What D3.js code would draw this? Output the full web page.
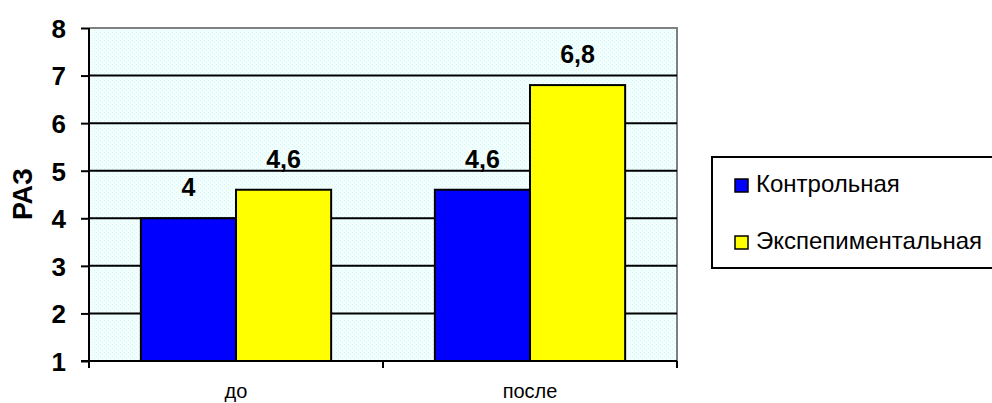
<!DOCTYPE html>
<html>
<head>
<meta charset="utf-8">
<script src="https://cdn.jsdelivr.net/npm/d3@7"></script>
<style>
  body { margin: 0; background: #fff; }
  svg { display: block; font-family: "Liberation Sans", Arial, sans-serif; }
</style>
</head>
<body>
<svg id="chart"></svg>
<script>
// data
const categories = ["до", "после"];
const seriesNames = ["Контрольная", "Экспепиментальная"];
const control = [4, 4.6];
const experimental = [4.6, 6.8];
const valueLabels = [["4", "4,6"], ["4,6", "6,8"]];
const yTicks = [1, 2, 3, 4, 5, 6, 7, 8];
const colors = ["#0000ff", "#ffff00"];

const width = 992, height = 403;
const plot = { left: 89, right: 677, top: 28, bottom: 361 };

const svg = d3.select("#chart").attr("width", width).attr("height", height);

// pattern for the light background
const defs = svg.append("defs");
const pat = defs.append("pattern")
  .attr("id", "bgpat").attr("width", 4).attr("height", 4)
  .attr("patternUnits", "userSpaceOnUse");
pat.append("rect").attr("width", 4).attr("height", 4).attr("fill", "#f2ffff");
pat.append("rect").attr("x", 0).attr("y", 0).attr("width", 1).attr("height", 1).attr("fill", "#d8f4f4");
pat.append("rect").attr("x", 2).attr("y", 2).attr("width", 1).attr("height", 1).attr("fill", "#d8f4f4");

const x0 = d3.scaleBand().domain(categories).range([plot.left, plot.right]).paddingInner(0).paddingOuter(0);
const x1 = d3.scaleBand().domain(seriesNames).range([0, x0.bandwidth()]).paddingInner(0).paddingOuter(0.545);
const y = d3.scaleLinear().domain([1, 8]).range([plot.bottom, plot.top]);

// plot background
svg.append("rect")
  .attr("x", plot.left).attr("y", plot.top)
  .attr("width", plot.right - plot.left).attr("height", plot.bottom - plot.top)
  .attr("fill", "url(#bgpat)");

// gray border top & right
svg.append("path")
  .attr("d", `M${plot.left},${plot.top}H${plot.right}V${plot.bottom}`)
  .attr("fill", "none").attr("stroke", "#808080").attr("stroke-width", 2);

// gridlines
svg.append("g").selectAll("line")
  .data(yTicks.filter(d => d > 1 && d < 8))
  .enter().append("line")
  .attr("x1", plot.left).attr("x2", plot.right)
  .attr("y1", d => y(d)).attr("y2", d => y(d))
  .attr("stroke", "#000").attr("stroke-width", 2);

// bars
const rows = categories.map((c, i) => ({ cat: c, vals: [control[i], experimental[i]], labels: valueLabels[i] }));
const groups = svg.append("g").selectAll("g")
  .data(rows).enter().append("g")
  .attr("transform", d => `translate(${x0(d.cat)},0)`);

groups.selectAll("rect")
  .data(d => d.vals.map((v, j) => ({ name: seriesNames[j], v: v, j: j })))
  .enter().append("rect")
  .attr("x", d => x1(d.name))
  .attr("y", d => y(d.v))
  .attr("width", x1.bandwidth())
  .attr("height", d => y(1) - y(d.v))
  .attr("fill", d => colors[d.j])
  .attr("stroke", "#000").attr("stroke-width", 2);

groups.selectAll("text")
  .data(d => d.vals.map((v, j) => ({ name: seriesNames[j], v: v, label: d.labels[j] })))
  .enter().append("text")
  .attr("x", d => x1(d.name) + x1.bandwidth() / 2)
  .attr("y", d => y(d.v) - 22)
  .attr("text-anchor", "middle")
  .attr("font-size", 25).attr("font-weight", "bold")
  .text(d => d.label);

// y axis
const yAxis = d3.axisLeft(y).tickValues(yTicks).tickSize(8).tickPadding(15).tickFormat(d3.format("d"));
const gy = svg.append("g").attr("transform", `translate(${plot.left},0)`).call(yAxis);
gy.select(".domain").attr("stroke", "#000").attr("stroke-width", 2).attr("d", `M0,${plot.top}V${plot.bottom}`);
gy.selectAll(".tick line").attr("stroke", "#000").attr("stroke-width", 2);
gy.selectAll(".tick text").attr("font-size", 26).attr("font-weight", "bold").attr("fill", "#000")
  .attr("font-family", "Liberation Sans, Arial, sans-serif").attr("dy", "0.36em");

// x axis
svg.append("line")
  .attr("x1", plot.left - 8).attr("x2", plot.right)
  .attr("y1", plot.bottom).attr("y2", plot.bottom)
  .attr("stroke", "#000").attr("stroke-width", 2);
const xTickPos = [plot.left, x0(categories[1]), plot.right];
svg.append("g").selectAll("line")
  .data(xTickPos).enter().append("line")
  .attr("x1", d => d).attr("x2", d => d)
  .attr("y1", plot.bottom).attr("y2", plot.bottom + 7)
  .attr("stroke", "#000").attr("stroke-width", 2);
svg.append("g").selectAll("text")
  .data(categories).enter().append("text")
  .attr("x", d => x0(d) + x0.bandwidth() / 2)
  .attr("y", 398)
  .attr("text-anchor", "middle")
  .attr("font-size", 20)
  .text(d => d);

// y title
svg.append("text")
  .attr("transform", "translate(32,194) rotate(-90)")
  .attr("text-anchor", "middle")
  .attr("font-size", 27).attr("font-weight", "bold")
  .text("РАЗ");

// legend
const lg = svg.append("g");
lg.append("rect")
  .attr("x", 712).attr("y", 157).attr("width", 290).attr("height", 111)
  .attr("fill", "#fff").attr("stroke", "#000").attr("stroke-width", 2);
const items = lg.selectAll("g.item")
  .data(seriesNames).enter().append("g")
  .attr("transform", (d, i) => `translate(735,${179 + i * 57})`);
items.append("rect")
  .attr("width", 13).attr("height", 13)
  .attr("fill", (d, i) => colors[i])
  .attr("stroke", "#000").attr("stroke-width", 1.5);
items.append("text")
  .attr("x", 21).attr("y", 13)
  .attr("font-size", 24)
  .text(d => d);
</script>
</body>
</html>
